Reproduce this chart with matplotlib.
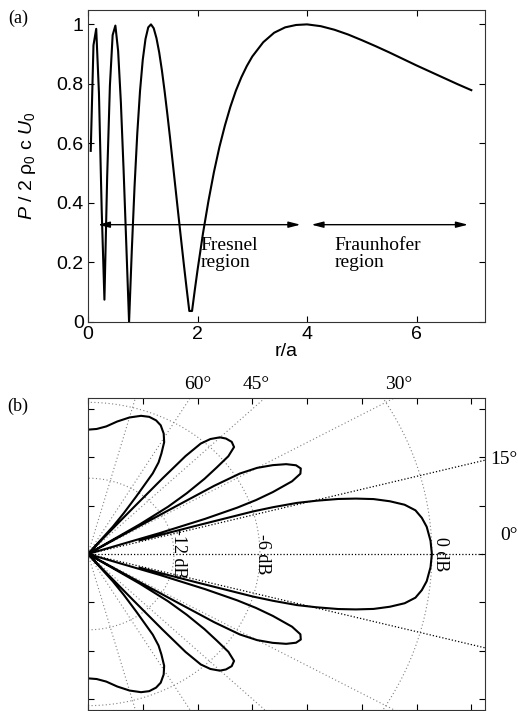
import numpy as np
import matplotlib
matplotlib.use('Agg')
import matplotlib.pyplot as plt

plt.rcParams['font.family'] = ['Liberation Sans', 'DejaVu Sans']
plt.rcParams['mathtext.fontset'] = 'custom'
plt.rcParams['mathtext.rm'] = 'Liberation Sans'
plt.rcParams['mathtext.it'] = 'Liberation Sans:italic'
SERIF = ['Liberation Serif', 'DejaVu Serif']

# (a) on-axis pressure
r_over_a = [0.05, 0.10, 0.15, 0.20, 0.25, 0.30, 0.35, 0.40, 0.45, 0.50,
            0.55, 0.60, 0.65, 0.70, 0.75, 0.80, 0.85, 0.90, 0.95, 1.00,
            1.05, 1.10, 1.15, 1.20, 1.25, 1.30, 1.35, 1.40, 1.45, 1.50,
            1.55, 1.60, 1.65, 1.70, 1.75, 1.80, 1.85, 1.90, 1.95, 2.00,
            2.10, 2.20, 2.30, 2.40, 2.50, 2.60, 2.70, 2.80, 2.90, 3.00,
            3.20, 3.40, 3.60, 3.80, 4.00, 4.25, 4.50, 4.75, 5.00, 5.25,
            5.50, 5.75, 6.00, 6.25, 6.50, 6.75, 7.00]
pressure = [0.575, 0.930, 0.985, 0.769, 0.377, 0.075, 0.488, 0.794, 0.964, 0.996,
            0.911, 0.739, 0.511, 0.257, 0.000, 0.241, 0.455, 0.634, 0.776, 0.881,
            0.951, 0.990, 1.000, 0.987, 0.954, 0.906, 0.845, 0.774, 0.697, 0.616,
            0.531, 0.446, 0.361, 0.277, 0.194, 0.114, 0.037, 0.037, 0.107, 0.174,
            0.298, 0.407, 0.504, 0.588, 0.660, 0.723, 0.777, 0.822, 0.860, 0.892,
            0.940, 0.972, 0.990, 0.998, 1.000, 0.994, 0.982, 0.966, 0.947, 0.927,
            0.906, 0.884, 0.862, 0.841, 0.820, 0.799, 0.779]

# (b) directivity, upper half (degrees, radius relative to 0 dB); lower half is the mirror
# nan = gap in the trace where the main lobe is cut off
nan = float('nan')
beam_deg = [0.0, 2.5, 5.2, 7.0, 8.6, 10.0, 11.2, 12.3, 13.2, 14.0, 14.8, 15.5,
            16.0, 16.3, 16.5, 16.7, nan,
            17.9, 18.3, 18.8, 19.4, 20.0, 20.8, 22.0, 23.2, 24.5, 25.8, 27.2,
            28.6, 30.0, 31.0, 31.5, 31.6, 31.7, 31.8,
            32.3, 33.0, 33.8, 34.9, 36.2, 37.3, 38.3, 39.7, 41.5, 43.5, 45.1,
            46.8, 48.0, 48.7, 49.0, 49.2, 49.4, 49.6,
            50.6, 51.3, 52.3, 53.5, 54.7, 55.8, 57.2, 59.0, 61.0, 63.5, 65.8,
            68.5, 71.3, 75.0, 79.0, 82.8, 86.5, 90.0]
beam_r = [1.000, 0.997, 0.989, 0.978, 0.963, 0.935, 0.895, 0.850, 0.800, 0.750, 0.688, 0.630,
          0.560, 0.500, 0.330, 0.157, nan,
          0.000, 0.220, 0.360, 0.460, 0.520, 0.575, 0.640, 0.672, 0.680, 0.672, 0.648,
          0.612, 0.568, 0.515, 0.430, 0.300, 0.150, 0.000,
          0.000, 0.180, 0.280, 0.350, 0.420, 0.470, 0.520, 0.552, 0.558, 0.553, 0.543,
          0.520, 0.490, 0.430, 0.330, 0.200, 0.080, 0.000,
          0.000, 0.115, 0.170, 0.235, 0.326, 0.365, 0.394, 0.430, 0.454, 0.474, 0.483,
          0.486, 0.481, 0.466, 0.445, 0.424, 0.413, 0.410]

r_0db = 6.28              # 0 dB radius in axis units
ring_levels = [0.25, 0.5, 1.0]
ring_labels = ['-12 dB', '-6 dB', '0 dB']
ring_label_shift = [-0.08, -0.11, 0.0]
spoke_dark = [0, 15, -15]
spoke_light = [30, 45, 60, 75, -30, -45, -60, -75]

fig = plt.figure(figsize=(5.18, 7.11), dpi=100)

# ---- (a)
ax = fig.add_axes([88/518, 1 - 322/711, 397/518, 312.5/711])
ax.plot(r_over_a, pressure, color='k', lw=1.5)
ax.set_xlim(0, 7.25)
ax.set_ylim(0, 1.05)
ax.set_xticks([0, 2, 4, 6])
ax.set_yticks([0, 0.2, 0.4, 0.6, 0.8, 1.0])
ax.set_yticklabels(['0', '0.2', '0.4', '0.6', '0.8', '1'])
ax.set_xlabel('r/a', fontsize=14, labelpad=0)
ax.set_ylabel(r'$P$ / 2 ρ$_0$ c $U_0$', fontsize=14)
ax.yaxis.set_label_coords(-0.125, 0.5)

arrow = dict(arrowstyle='<|-|>,head_length=0.7,head_width=0.18', color='k', lw=1.0,
             shrinkA=0, shrinkB=0, mutation_scale=10)
ax.annotate('', xy=(0.18, 0.327), xytext=(3.88, 0.327), arrowprops=arrow)
ax.annotate('', xy=(4.08, 0.327), xytext=(6.94, 0.327), arrowprops=arrow)
ax.text(2.05, 0.285, 'Fresnel\nregion', family=SERIF, fontsize=14, va='top',
        ha='left', linespacing=0.95)
ax.text(4.5, 0.285, 'Fraunhofer\nregion', family=SERIF, fontsize=14, va='top',
        ha='left', linespacing=0.95)

# ---- (b)
bx = fig.add_axes([88/518, 1 - 710/711, 397/518, 312/711])
bx.set_xlim(0, 7.25)
bx.set_ylim(-3.23, 3.23)
bx.set_xticks(range(0, 8))
bx.set_yticks(range(-3, 4))
bx.set_xticklabels([])
bx.set_yticklabels([])

for a in spoke_light:
    t = np.radians(a)
    bx.plot([0, 20*np.cos(t)], [0, 20*np.sin(t)], color='0.5', lw=0.8,
            ls=(0, (1, 2.2)))
for a in spoke_dark:
    t = np.radians(a)
    bx.plot([0, 20*np.cos(t)], [0, 20*np.sin(t)], color='k', lw=0.9,
            ls=(0, (1, 1.6)))
arc = np.radians(np.linspace(-90, 90, 361))
for lev in ring_levels:
    bx.plot(lev*r_0db*np.cos(arc), lev*r_0db*np.sin(arc), color='0.5', lw=0.8,
            ls=(0, (1, 2.2)))

deg = np.array([-d for d in beam_deg[::-1]] + beam_deg[1:])
rad = np.array(beam_r[::-1] + beam_r[1:]) * r_0db
bx.plot(rad*np.cos(np.radians(deg)), rad*np.sin(np.radians(deg)), color='k', lw=1.5)

for lev, lab, dx in zip(ring_levels, ring_labels, ring_label_shift):
    bx.text(lev*r_0db + dx, 0, lab, family=SERIF, fontsize=13, rotation=-90,
            ha='left', va='center')

bx.text(2.01, 3.50, '60°', family=SERIF, fontsize=14, ha='center', va='center')
bx.text(3.07, 3.50, '45°', family=SERIF, fontsize=14, ha='center', va='center')
bx.text(5.68, 3.50, '30°', family=SERIF, fontsize=14, ha='center', va='center')
bx.text(7.34, 1.95, '15°', family=SERIF, fontsize=14, ha='left', va='center')
bx.text(7.52, 0.39, '0°', family=SERIF, fontsize=14, ha='left', va='center')

for a in (ax, bx):
    a.tick_params(direction='in', top=True, right=True, length=4, width=0.8,
                  labelsize=14, pad=3)
    for s in a.spines.values():
        s.set_linewidth(0.8)
        s.set_color('0.2')

fig.text(18/518, 1 - 18/711, '(a)', family=SERIF, fontsize=13, ha='center', va='center')
fig.text(18/518, 1 - 406/711, '(b)', family=SERIF, fontsize=13, ha='center', va='center')

fig.savefig('out.png', dpi=100)
